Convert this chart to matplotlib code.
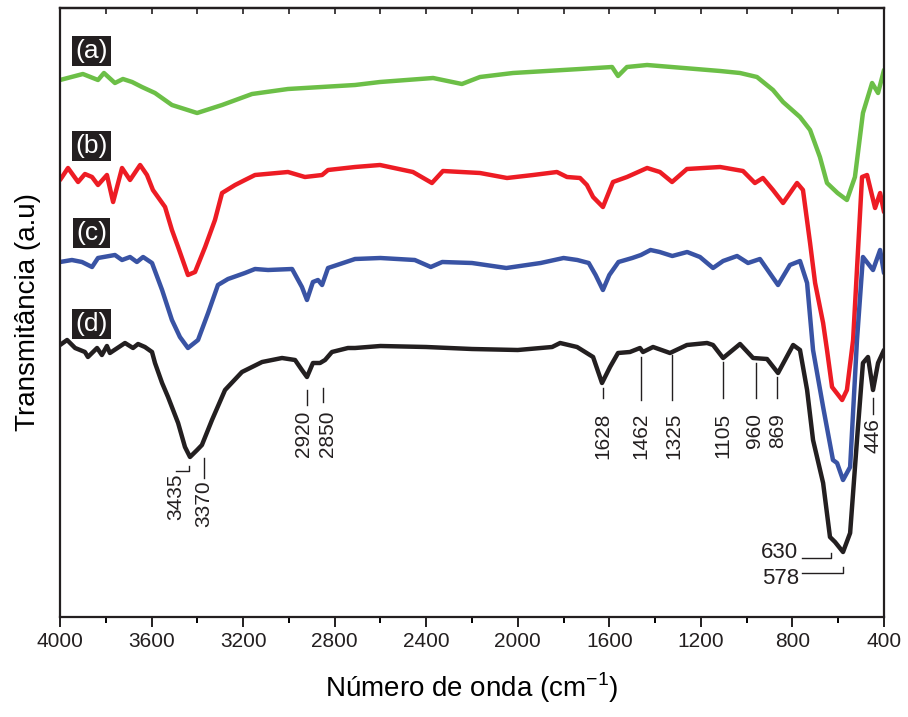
import matplotlib
matplotlib.use("Agg")
import matplotlib.pyplot as plt
import numpy as np

plt.rcParams['font.family'] = ['Liberation Sans', 'DejaVu Sans']

# espectros digitalizados: numero de onda (cm-1) e posicao vertical lida (px a partir do topo)
wn_a = [4000, 3900, 3834, 3808, 3760, 3725, 3685, 3642, 3585, 3511, 3401, 3292, 3161, 3004,
        2711, 2602, 2370, 2244, 2165, 2021, 1728, 1588, 1562, 1523, 1435, 1116, 1029, 955,
        885, 841, 767, 723, 680, 649, 603, 562, 527, 492, 452, 426, 400]
px_a = [80, 74, 80, 73, 83, 79, 82, 87, 93, 105, 113, 105, 94, 89,
        85, 82, 78, 84, 77, 73, 69, 67, 76, 67, 65, 71, 73, 77,
        90, 102, 117, 130, 157, 183, 193, 200, 177, 113, 83, 93, 70]

wn_b = [4000, 3991, 3965, 3921, 3891, 3860, 3834, 3795, 3768, 3729, 3694, 3650, 3620, 3594,
        3541, 3511, 3484, 3441, 3410, 3366, 3323, 3292, 3235, 3192, 3148, 3004, 2930, 2855,
        2829, 2711, 2602, 2458, 2375, 2327, 2165, 2047, 1933, 1829, 1785, 1728, 1698, 1671,
        1628, 1584, 1523, 1435, 1379, 1326, 1261, 1116, 1016, 964, 929, 885, 841, 780, 754,
        723, 701, 666, 649, 627, 583, 562, 535, 496, 474, 439, 417, 400]
px_b = [180, 177, 168, 182, 174, 177, 185, 175, 202, 168, 180, 165, 175, 190,
        207, 230, 247, 275, 272, 247, 220, 193, 185, 180, 175, 172, 177, 175,
        170, 167, 165, 172, 183, 171, 173, 178, 175, 172, 177, 178, 185, 197,
        207, 182, 177, 168, 172, 182, 169, 167, 171, 183, 178, 190, 203, 183, 190,
        243, 283, 323, 350, 387, 400, 390, 340, 177, 175, 208, 193, 212]

wn_c = [4000, 3948, 3904, 3860, 3834, 3760, 3729, 3694, 3664, 3637, 3598, 3554, 3511, 3476,
        3441, 3397, 3353, 3310, 3266, 3192, 3148, 3091, 2986, 2943, 2921, 2895, 2873, 2855,
        2829, 2711, 2600, 2450, 2380, 2330, 2200, 2050, 1900, 1800, 1740, 1690, 1660, 1628,
        1600, 1560, 1500, 1462, 1420, 1380, 1325, 1260, 1204, 1147, 1103, 1042, 994, 942,
        863, 811, 767, 736, 710, 666, 623, 605, 579, 548, 518, 492, 448, 417, 400]
px_c = [262, 260, 262, 267, 258, 255, 260, 257, 262, 257, 263, 290, 320, 337,
        348, 340, 313, 285, 279, 273, 269, 270, 269, 287, 300, 282, 280, 285,
        268, 259, 258, 260, 267, 262, 263, 268, 263, 258, 260, 263, 275, 290,
        275, 262, 258, 255, 250, 252, 256, 252, 257, 268, 261, 256, 263, 259,
        285, 265, 261, 283, 350, 407, 460, 463, 480, 467, 340, 257, 270, 250, 273]

wn_d = [4000, 3969, 3934, 3891, 3878, 3838, 3817, 3795, 3782, 3716, 3681, 3659, 3629, 3598,
        3585, 3554, 3528, 3484, 3454, 3432, 3401, 3380, 3336, 3279, 3205, 3117, 3030, 2973,
        2943, 2921, 2895, 2864, 2842, 2812, 2742, 2711, 2600, 2400, 2200, 2000, 1850, 1815,
        1741, 1671, 1632, 1597, 1562, 1510, 1466, 1453, 1409, 1335, 1261, 1173, 1147, 1103,
        1029, 972, 911, 863, 797, 767, 736, 710, 666, 636, 614, 579, 548, 518, 492, 470,
        448, 426, 400]
px_d = [345, 340, 348, 352, 357, 348, 355, 346, 353, 343, 348, 344, 347, 352,
        363, 383, 397, 423, 447, 457, 450, 445, 420, 390, 372, 362, 358, 360,
        370, 377, 363, 363, 360, 352, 348, 348, 346, 347, 349, 350, 347, 343,
        347, 357, 383, 367, 353, 352, 348, 352, 347, 353, 345, 343, 345, 358,
        344, 358, 359, 373, 345, 350, 390, 440, 483, 537, 542, 552, 533, 440, 363, 357,
        390, 363, 350]

labels = ['(a)', '(b)', '(c)', '(d)']
colors = ['#6cbf47', '#ed1c24', '#3953a4', '#231f20']

# bandas anotadas na curva (d)
peaks_vert = [3370, 2920, 2850, 1628, 1462, 1325, 1105, 960, 869]
text_x = [3370, 2938, 2833, 1628, 1462, 1318, 1105, 965, 866]
line_top = [458, 390, 388, 388, 357, 355, 362, 363, 377]
line_bot = [478, 405, 402, 398, 400, 400, 398, 398, 398]
text_top = [480, 411, 411, 413, 413, 413, 413, 413, 413]

base = 617  # linha de base da figura
def T(px):
    return base - np.asarray(px, dtype=float)

fig = plt.figure(figsize=(9.08, 7.17), dpi=100)
ax = fig.add_axes([60 / 908, 100 / 717, 824 / 908, 609 / 717])

for wn, px, c in zip([wn_a, wn_b, wn_c, wn_d], [px_a, px_b, px_c, px_d], colors):
    ax.plot(wn, T(px), color=c, lw=3.2, solid_joinstyle='round', solid_capstyle='round')

ax.set_xlim(4000, 400)
ax.set_ylim(0, 609)

# rotulos (a)-(d)
for lab, y in zip(labels, [51, 146, 233, 324]):
    ax.text(3862, T(y), lab, color='white', fontsize=19, ha='center', va='center',
            bbox=dict(boxstyle='square,pad=0.12', fc='#231f20', ec='none'))

kl = dict(color='#231f20', lw=1.0)
fs = 15
for wn, tx, t0, t1, tt in zip(peaks_vert, text_x, line_top, line_bot, text_top):
    ax.plot([wn, wn], T([t0, t1]), **kl)
    ax.text(tx, T(tt), str(wn), rotation=90, ha='center', va='top', fontsize=fs, color='#231f20')

# 3435 com colchete
ax.plot([3435, 3435, 3492], T([466, 471, 471]), **kl)
ax.text(3496, T(473), '3435', rotation=90, ha='center', va='top', fontsize=fs, color='#231f20')

# 446
ax.plot([446, 446], T([398, 414]), **kl)
ax.text(450, T(418), '446', rotation=90, ha='center', va='top', fontsize=fs, color='#231f20')

# 630 e 578
ax.plot([630, 630, 760], T([553, 558, 558]), **kl)
ax.text(775, T(553), '630', ha='right', va='center', fontsize=fs + 1, color='#231f20')
ax.plot([578, 578, 760], T([567, 573, 573]), **kl)
ax.text(770, T(579), '578', ha='right', va='center', fontsize=fs + 1, color='#231f20')

ax.set_xticks(np.arange(4000, 399, -400))
ax.set_xticks(np.arange(3800, 400, -400), minor=True)
ax.set_yticks([])
ax.tick_params(axis='x', which='major', direction='out', length=7, width=1.4, labelsize=15,
               pad=4, colors='#231f20')
ax.tick_params(axis='x', which='minor', direction='out', length=4, width=1.4)
for s in ax.spines.values():
    s.set_linewidth(1.6)
    s.set_color('#231f20')

# marcas internas no topo
top = ax.secondary_xaxis('top')
top.set_xticks(np.arange(4000, 399, -200))
top.tick_params(direction='in', length=4, width=1.2, labeltop=False, colors='#231f20')
top.spines['top'].set_linewidth(1.6)

ax.set_xlabel('Número de onda (cm$^{\\mathregular{-1}}$)', fontsize=20, labelpad=14)
ax.set_ylabel('Transmitância (a.u)', fontsize=20, labelpad=14)

fig.savefig('out.png', dpi=100)
